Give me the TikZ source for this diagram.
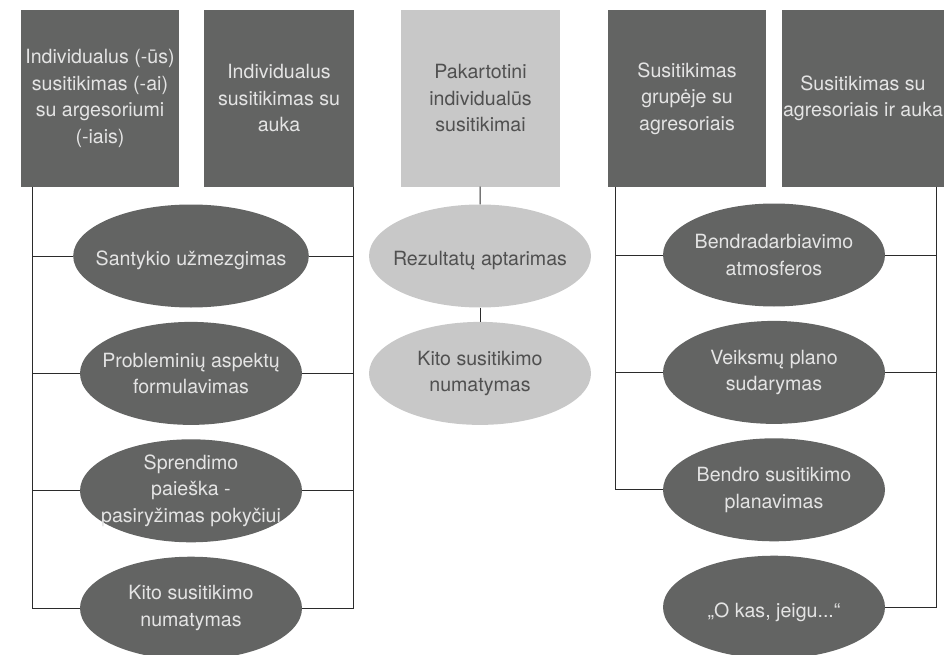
\documentclass[tikz,border=0pt]{standalone}
\usepackage{fontspec}
\setmainfont{TeX Gyre Heros}
\usetikzlibrary{shapes.geometric,calc,positioning}
\definecolor{darkColor}{HTML}{636463}
\definecolor{lightColor}{HTML}{C8C8C8}
\definecolor{paleText}{HTML}{E4E4E4}
\definecolor{greyText}{HTML}{505050}
\definecolor{lineColor}{HTML}{2B2B2B}
\tikzset{meeting/.style={fill=darkColor, text=paleText, align=center, minimum width=158pt, minimum height=176pt, inner sep=1pt, font=\fontsize{19.6}{26.5}\selectfont, execute at begin node={\rule{0pt}{25pt}}}}
\tikzset{meetinglight/.style={meeting, fill=lightColor, text=greyText}}
\tikzset{stage/.style={ellipse, fill=darkColor, text=paleText, align=center, minimum width=222pt, minimum height=103pt, inner xsep=-12pt, inner ysep=0pt, font=\fontsize{19.6}{26.5}\selectfont, execute at begin node={\rule{0pt}{24pt}}}}
\tikzset{stagelight/.style={stage, fill=lightColor, text=greyText}}

\begin{document}
\begin{tikzpicture}[x=1pt, y=-1pt, node distance=14pt]
	\useasboundingbox (0,0) rectangle (944,655);
	% Nodes
		\node (aggressor) [meeting] at (100,98.5) {Individualus (-ūs)\\ susitikimas (-ai)\\ su argesoriumi\\ (-iais)};
		\node (victim) [meeting, minimum width=150pt] at (279,98.5) {Individualus\\ susitikimas su\\ auka};
		\node (repeated) [meetinglight, minimum width=159pt] at (480.5,98.5) {Pakartotini\\ individualūs\\ susitikimai};
		\node (group) [meeting] at (687,98.5) {Susitikimas\\ grupėje su\\ agresoriais};
		\node (joint) [meeting, minimum width=162pt] at (863,98.5) {Susitikimas su\\ agresoriais ir auka};
		
		\node (rapport) [stage] at (191,256) {Santykio užmezgimas};
		\node (problems) [stage, below=of rapport] {Probleminių aspektų\\ formulavimas};
		\node (solution) [stage, below=of problems] {Sprendimo\\ paieška -\\ pasiryžimas pokyčiui};
		\node (nextleft) [stage, below=of solution] {Kito susitikimo\\ numatymas};
		
		\node (results) [stagelight] at (480,256) {Rezultatų aptarimas};
		\node (nextmid) [stagelight, below=of results] {Kito susitikimo\\ numatymas};
		
		\node (cooperation) [stage] at (774,255) {Bendradarbiavimo\\ atmosferos};
		\node (plan) [stage, below=of cooperation] {Veiksmų plano\\ sudarymas};
		\node (common) [stage, below=of plan] {Bendro susitikimo\\ planavimas};
		\node (whatif) [stage, below=of common] {„O kas, jeigu...“};
		
		\coordinate (leftbus) at ([xshift=12pt]aggressor.south west);
		\coordinate (rightbus) at ([xshift=-1pt]victim.south east);
		\coordinate (groupbus) at ([xshift=8pt]group.south west);
		\coordinate (jointbus) at ([xshift=-8pt]joint.south east);
		
		% Connectors
		\begin{scope}[draw=lineColor, line width=1pt]
		
		\draw (leftbus) |- (nextleft.west);
		\draw (rightbus) |- (nextleft.east);
		\foreach \s in {rapport, problems, solution} {
			\draw (\s.west) -- (\s.west -| leftbus);
			\draw (\s.east) -- (\s.east -| rightbus);
		}
		
		\draw (repeated) -- (results);
		\draw (results) -- (nextmid);
		
		\draw (groupbus) |- (common.west);
		\draw (jointbus) |- (whatif.east);
		\foreach \s in {cooperation, plan} {
			\draw (\s.west) -- (\s.west -| groupbus);
			\draw (\s.east) -- (\s.east -| jointbus);
		}
	
	\end{scope}

\end{tikzpicture}
\end{document}
